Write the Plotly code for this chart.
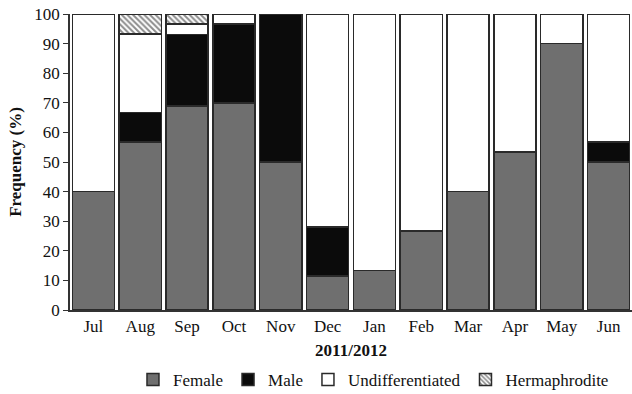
import plotly.graph_objects as go

months = ["Jul", "Aug", "Sep", "Oct", "Nov", "Dec", "Jan", "Feb", "Mar", "Apr", "May", "Jun"]
female = [40.0, 56.7, 69.0, 70.0, 50.0, 11.5, 13.3, 26.7, 40.0, 53.3, 90.0, 50.0]
male = [0.0, 10.0, 24.1, 26.7, 50.0, 16.5, 0.0, 0.0, 0.0, 0.0, 0.0, 6.7]
undifferentiated = [60.0, 26.6, 3.5, 3.3, 0.0, 72.0, 86.7, 73.3, 60.0, 46.7, 10.0, 43.3]
hermaphrodite = [0.0, 6.7, 3.4, 0.0, 0.0, 0.0, 0.0, 0.0, 0.0, 0.0, 0.0, 0.0]

FONT = "Liberation Serif, Times New Roman, serif"
edge = dict(color="#2a2a2a", width=1.5)

fig = go.Figure()
fig.add_trace(go.Bar(name="Female", x=months, y=female,
                     marker=dict(color="#6f6f6f", line=edge)))
fig.add_trace(go.Bar(name="Male", x=months, y=male,
                     marker=dict(color="#0b0b0b", line=edge)))
fig.add_trace(go.Bar(name="Undifferentiated", x=months, y=undifferentiated,
                     marker=dict(color="#ffffff", line=edge)))
fig.add_trace(go.Bar(name="Hermaphrodite", x=months, y=hermaphrodite,
                     marker=dict(color="#ffffff", line=edge,
                                 pattern=dict(shape="\\", fgcolor="#1a1a1a",
                                              bgcolor="#ffffff", size=4, solidity=0.5))))

fig.update_layout(
    barmode="stack",
    bargap=0.1,
    width=632, height=394,
    margin=dict(l=70, r=0, t=14, b=84, autoexpand=False),
    paper_bgcolor="white", plot_bgcolor="white",
    font=dict(family=FONT, size=17, color="#111111"),
    showlegend=True,
    legend=dict(orientation="h", x=0.54, xanchor="center", y=-0.236, yanchor="middle",
                font=dict(family=FONT, size=17), itemwidth=30,
                traceorder="normal", bgcolor="rgba(0,0,0,0)"),
)
fig.update_xaxes(
    type="category", range=[-0.5, 11.5],
    showline=True, linecolor="#333333", linewidth=1.5,
    ticks="", showgrid=False,
    title=dict(text="<b>2011/2012</b>", font=dict(family=FONT, size=17), standoff=9),
    tickfont=dict(family=FONT, size=17),
    automargin=False,
)
fig.update_yaxes(
    range=[0, 100], dtick=10,
    showline=True, linecolor="#333333", linewidth=1.5,
    ticks="outside", ticklen=5, tickcolor="#333333",
    showgrid=False, zeroline=False,
    title=dict(text="<b>Frequency (%)</b>", font=dict(family=FONT, size=17), standoff=8),
    tickfont=dict(family=FONT, size=17),
    automargin=False,
)

fig.write_html("out.html")
